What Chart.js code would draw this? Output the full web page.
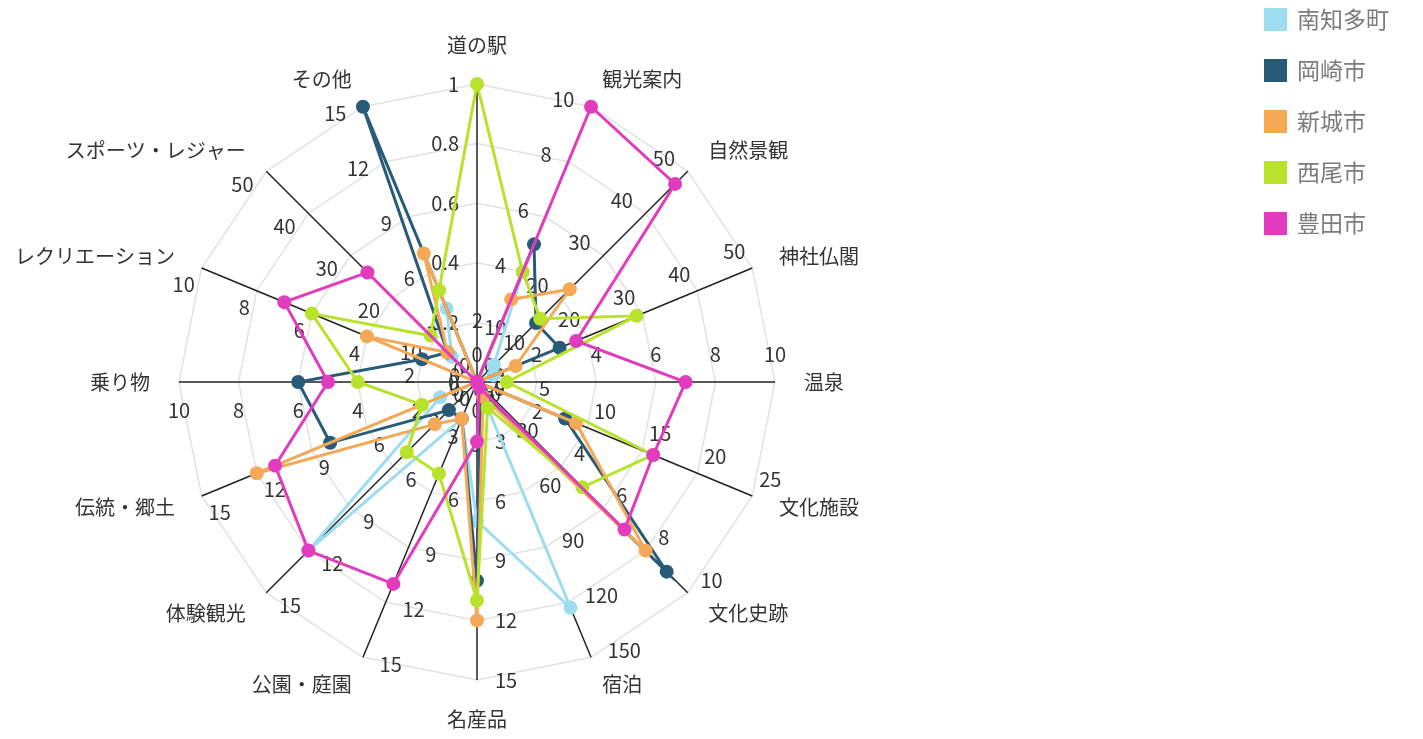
<!DOCTYPE html>
<html>
<head>
<meta charset="utf-8">
<script src="https://cdn.jsdelivr.net/npm/chart.js@4.4.0/dist/chart.umd.min.js"></script>
<style>
    html, body { margin: 0; padding: 0; background: #fff; overflow: hidden; }
    #wrap { position: relative; top: -20px; width: 1423px; height: 759px; }
</style>
</head>
<body>
<div id="wrap"><canvas id="chart"></canvas></div>
<script>
// Axis names, clockwise from the top
const labels = ['道の駅', '観光案内', '自然景観', '神社仏閣', '温泉', '文化施設', '文化史跡', '宿泊',
    '名産品', '公園・庭園', '体験観光', '伝統・郷土', '乗り物', 'レクリエーション', 'スポーツ・レジャー', 'その他'];

// Each axis has its own tick labels (the last one is the axis maximum)
const axisTicks = [
    [0, 0.2, 0.4, 0.6, 0.8, 1],
    [0, 2, 4, 6, 8, 10],
    [0, 10, 20, 30, 40, 50],
    [0, 10, 20, 30, 40, 50],
    [0, 2, 4, 6, 8, 10],
    [0, 5, 10, 15, 20, 25],
    [0, 2, 4, 6, 8, 10],
    [0, 30, 60, 90, 120, 150],
    [0, 3, 6, 9, 12, 15],
    [0, 3, 6, 9, 12, 15],
    [0, 3, 6, 9, 12, 15],
    [0, 3, 6, 9, 12, 15],
    [0, 2, 4, 6, 8, 10],
    [0, 2, 4, 6, 8, 10],
    [0, 10, 20, 30, 40, 50],
    [0, 3, 6, 9, 12, 15]
];

// Series values, same order as labels
const minamichita = [0, 4, 4, 3, 0, 0, 0, 123, 7, 2, 12, 2, 0, 0, 6, 4];
const okazaki     = [0, 5, 14, 15, 0, 8, 9, 5, 10, 2, 2, 8, 6, 2, 7, 15];
const shinshiro   = [0, 3, 22, 7, 0, 9, 8, 8, 12, 2, 3, 12, 0, 4, 7, 7];
const nishio      = [1, 4, 15, 29, 1, 16, 5, 14, 11, 5, 5, 3, 4, 6, 11, 5];
const toyota      = [0, 10, 47, 18, 7, 16, 7, 3, 3, 11, 12, 11, 5, 7, 26, 0];

const FONT = '"Noto Sans CJK JP", "Noto Sans", sans-serif';
const axisMax = axisTicks.map(t => t[t.length - 1]);

/**
 * Scale the values of one series onto 0..1 by each axis maximum.
 */
function normalize(values) {
    return values.map((v, i) => v / axisMax[i]);
}

function series(label, values, color, order) {
    return {
        label: label,
        data: normalize(values),
        borderColor: color,
        backgroundColor: color,
        pointBackgroundColor: color,
        pointBorderColor: color,
        pointBorderWidth: 0,
        pointRadius: 7,
        borderWidth: 3,
        fill: false,
        order: order
    };
}

/**
 * Draws the axis names and the tick labels of every axis.
 */
const axisTextPlugin = {
    id: 'axisText',
    beforeDatasetsDraw(chart) {
        const scale = chart.scales.r;
        const ctx = chart.ctx;
        ctx.save();
        ctx.font = '20px ' + FONT;
        ctx.fillStyle = '#333';

        axisTicks.forEach((ticks, i) => {
            const angle = scale.getIndexAngle(i);
            const sin = Math.sin(angle);
            const cos = Math.cos(angle);

            // axis name, just outside the outer ring
            const lp = scale.getPointPosition(i, scale.drawingArea + 29);
            if (Math.abs(sin) < 0.01) {
                ctx.textAlign = 'center';
                ctx.textBaseline = cos > 0 ? 'bottom' : 'top';
            } else {
                ctx.textAlign = sin > 0 ? 'left' : 'right';
                ctx.textBaseline = 'middle';
            }
            ctx.fillText(labels[i], lp.x, lp.y);

            // tick labels, beside the axis line
            const nx = -cos;
            const ny = -sin;
            if (Math.abs(nx) < 0.01) {
                ctx.textAlign = 'center';
                ctx.textBaseline = ny < 0 ? 'bottom' : 'top';
            } else {
                ctx.textAlign = nx < 0 ? 'right' : 'left';
                ctx.textBaseline = 'middle';
            }
            ticks.forEach(t => {
                const p = scale.getPointPositionForValue(i, t / axisMax[i]);
                ctx.fillText(String(t), p.x + nx * 18, p.y + ny * 18);
            });
        });
        ctx.restore();
    }
};

const ctx = document.getElementById('chart').getContext('2d');
new Chart(ctx, {
    type: 'radar',
    data: {
        labels: labels,
        datasets: [
            series('南知多町', minamichita, '#9edcf0', 4),
            series('岡崎市', okazaki, '#275b78', 3),
            series('新城市', shinshiro, '#f5a856', 2),
            series('西尾市', nishio, '#b8e22b', 1),
            series('豊田市', toyota, '#e23cbe', 0)
        ]
    },
    options: {
        responsive: true,
        maintainAspectRatio: false,
        animation: false,
        layout: { padding: { right: 24, bottom: 59 } },
        elements: { line: { tension: 0 } },
        plugins: {
            tooltip: { enabled: false },
            legend: {
                position: 'right',
                align: 'start',
                reverse: true,
                labels: {
                    boxWidth: 20,
                    boxHeight: 20,
                    padding: 28,
                    color: '#7c7c7c',
                    font: { size: 23, family: FONT }
                }
            }
        },
        scales: {
            r: {
                min: 0,
                max: 1,
                ticks: { display: false, stepSize: 0.2 },
                grid: { color: '#e2e2e2', lineWidth: 1.5 },
                angleLines: { color: '#222', lineWidth: 1.5 },
                pointLabels: { display: false }
            },
            // invisible spacers that place the radar left of the legend
            padRight: {
                type: 'linear', axis: 'y', position: 'right', min: 0, max: 1,
                grid: { display: false }, border: { display: false }, ticks: { display: false },
                afterFit(scale) { scale.width = 283; }
            },
            padTop: {
                type: 'linear', axis: 'x', position: 'top', min: 0, max: 1,
                grid: { display: false }, border: { display: false }, ticks: { display: false },
                afterFit(scale) { scale.height = 104; }
            }
        }
    },
    plugins: [axisTextPlugin]
});
</script>
</body>
</html>
